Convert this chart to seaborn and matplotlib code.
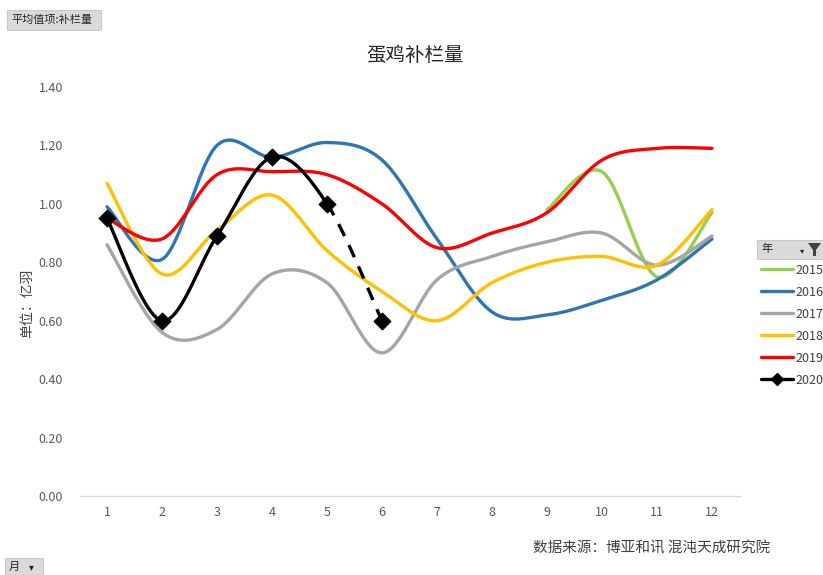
import numpy as np
import pandas as pd
import matplotlib
matplotlib.use("Agg")
import matplotlib.pyplot as plt
from matplotlib.patches import Rectangle, Polygon
from matplotlib.lines import Line2D
import seaborn as sns

months = list(range(1, 13))
years = ["2015", "2016", "2017", "2018", "2019", "2020"]
v2015 = [np.nan] * 8 + [0.98, 1.11, 0.75, 0.97]
v2016 = [0.99, 0.81, 1.20, 1.16, 1.21, 1.15, 0.88, 0.63, 0.62, 0.67, 0.74, 0.88]
v2017 = [0.86, 0.56, 0.57, 0.76, 0.73, 0.49, 0.74, 0.82, 0.87, 0.90, 0.79, 0.89]
v2018 = [1.07, 0.76, 0.91, 1.03, 0.84, 0.70, 0.60, 0.73, 0.80, 0.82, 0.79, 0.98]
v2019 = [0.95, 0.88, 1.10, 1.11, 1.10, 1.00, 0.85, 0.90, 0.97, 1.15, 1.19, 1.19]
v2020 = [0.95, 0.60, 0.89, 1.16, 1.00, 0.60]
series = dict(zip(years, [v2015, v2016, v2017, v2018, v2019, v2020]))
colors = {"2015": "#92D050", "2016": "#2E75B6", "2017": "#A5A5A5",
          "2018": "#FFC000", "2019": "#FF0000", "2020": "#000000"}
yticks = [0.0, 0.2, 0.4, 0.6, 0.8, 1.0, 1.2, 1.4]


def smooth(xs, ys, n=40):
    """Excel-style smoothed line rendering (Catmull-Rom Bezier)."""
    pts = np.array([(x, y) for x, y in zip(xs, ys) if not np.isnan(y)], float)
    out = []
    for i in range(len(pts) - 1):
        p0, p3 = pts[i], pts[i + 1]
        prv = pts[i - 1] if i > 0 else pts[i]
        nxt = pts[i + 2] if i + 2 < len(pts) else pts[i + 1]
        c1 = p0 + (p3 - prv) / 6.0
        c2 = p3 - (nxt - p0) / 6.0
        t = np.linspace(0, 1, n)[:, None]
        seg = ((1 - t) ** 3) * p0 + 3 * ((1 - t) ** 2) * t * c1 + 3 * (1 - t) * t ** 2 * c2 + t ** 3 * p3
        if i > 0:
            seg = seg[1:]
        out.append(seg)
    return np.vstack(out)


sns.set_theme(style="white")
plt.rcParams["font.family"] = ["Noto Sans CJK SC", "DejaVu Sans"]

fig = plt.figure(figsize=(8.23, 5.75), dpi=100)
ax = fig.add_axes([79.5 / 823, 79 / 575, 660 / 823, 409 / 575])

rows = []
for yr in years[:5]:
    c = smooth(months, series[yr])
    for x, y in c:
        rows.append((yr, x, y))
df = pd.DataFrame(rows, columns=["year", "month", "value"])
sns.lineplot(data=df, x="month", y="value", hue="year", palette=colors,
             sort=False, estimator=None, linewidth=2.4, legend=False, ax=ax)

# 2020: solid through month 5, dashed to month 6
c20 = smooth(months[:6], v2020)
n = 40
split = 4 * (n - 1) + 1
solid = pd.DataFrame(c20[:split], columns=["month", "value"])
dashed = pd.DataFrame(c20[split - 1:], columns=["month", "value"])
sns.lineplot(data=solid, x="month", y="value", color="black", sort=False,
             estimator=None, linewidth=2.4, ax=ax)
ax.plot(dashed["month"], dashed["value"], color="black", linewidth=2.4,
        linestyle=(0, (4, 3)))
pts20 = pd.DataFrame({"month": months[:6], "value": v2020})
sns.scatterplot(data=pts20, x="month", y="value", color="black", marker="D",
                s=75, edgecolor="black", zorder=5, ax=ax)

ax.set_xlim(0.5, 12.5)
ax.set_ylim(0, 1.4)
ax.set_xticks(months)
ax.set_xticklabels([str(m) for m in months])
ax.set_yticks(yticks)
ax.set_yticklabels([f"{v:.2f}" for v in yticks])
ax.tick_params(axis="both", length=0, labelsize=9, labelcolor="#595959")
ax.tick_params(axis="y", pad=12)
ax.tick_params(axis="x", pad=7)
for s in ["top", "right", "left"]:
    ax.spines[s].set_visible(False)
ax.spines["bottom"].set_color("#D9D9D9")
ax.spines["bottom"].set_linewidth(1)
ax.set_xlabel("")
ax.set_ylabel("单位：亿羽", fontsize=10, color="#404040", labelpad=4)
ax.yaxis.set_label_coords(-0.068, 0.47)

fig.text(415 / 823, 1 - 55 / 575, "蛋鸡补栏量", ha="center", va="center",
         fontsize=14, color="#262626")
fig.text(770 / 823, 1 - 548 / 575, "数据来源：博亚和讯 混沌天成研究院", ha="right",
         va="center", fontsize=10.5, color="#404040")

# pivot chart field buttons
fig.patches.append(Rectangle((7 / 823, 1 - 30 / 575), 94 / 823, 20 / 575,
                             transform=fig.transFigure, fc="#DADADA", ec="#C8C8C8", lw=0.8))
fig.text(11 / 823, 1 - 20 / 575, "平均值项:补栏量", ha="left", va="center", fontsize=8, color="#262626")
fig.patches.append(Rectangle((5 / 823, 0), 38 / 823, 17 / 575,
                             transform=fig.transFigure, fc="#DADADA", ec="#C8C8C8", lw=0.8))
fig.text(9 / 823, 8 / 575, "月", ha="left", va="center", fontsize=8, color="#262626")
fig.text(29 / 823, 8 / 575, "▾", ha="left", va="center", fontsize=7, color="#262626",
         family=["DejaVu Sans"])
fig.patches.append(Rectangle((757 / 823, 1 - 259 / 575), 66 / 823, 19 / 575,
                             transform=fig.transFigure, fc="#DADADA", ec="#C8C8C8", lw=0.8))
fig.text(761 / 823, 1 - 249 / 575, "年", ha="left", va="center", fontsize=8, color="#262626")
fig.text(800 / 823, 1 - 251 / 575, "▾", ha="left", va="center", fontsize=6, color="#262626",
         family=["DejaVu Sans"])
fig.patches.append(Polygon([(808 / 823, 1 - 243 / 575), (821 / 823, 1 - 243 / 575),
                            (816 / 823, 1 - 250 / 575), (816 / 823, 1 - 256 / 575),
                            (813 / 823, 1 - 256 / 575), (813 / 823, 1 - 250 / 575)],
                           closed=True, transform=fig.transFigure, fc="#404040", ec="none"))

handles = []
for yr in years:
    if yr == "2020":
        handles.append(Line2D([], [], color="black", lw=2.4, marker="D", markersize=6))
    else:
        handles.append(Line2D([], [], color=colors[yr], lw=2.4))
leg = fig.legend(handles, years, loc="upper left", bbox_to_anchor=(757 / 823, 1 - 260 / 575),
                 frameon=False, fontsize=9, handlelength=2.6, handletextpad=0.15,
                 labelspacing=0.72, borderaxespad=0, borderpad=0.3)
for t in leg.get_texts():
    t.set_color("#404040")

fig.savefig("out.png", dpi=100, facecolor="white")
